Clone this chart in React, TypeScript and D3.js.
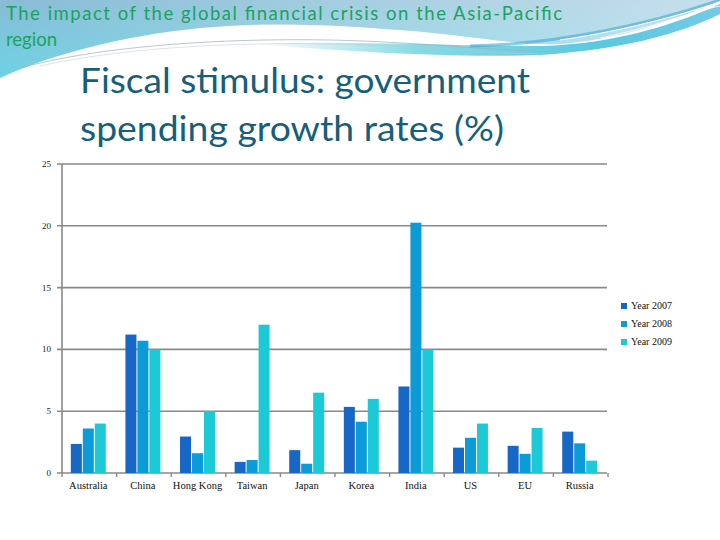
import React from "react";
import * as d3 from "d3";

const categories = ["Australia", "China", "Hong Kong", "Taiwan", "Japan", "Korea", "India", "US", "EU", "Russia"];
const seriesNames = ["Year 2007", "Year 2008", "Year 2009"];
const year2007 = [2.35, 11.2, 2.95, 0.9, 1.85, 5.35, 7.0, 2.05, 2.2, 3.35];
const year2008 = [3.6, 10.7, 1.6, 1.05, 0.75, 4.15, 20.25, 2.85, 1.55, 2.4];
const year2009 = [4.0, 10.0, 5.0, 12.0, 6.5, 6.0, 10.0, 4.0, 3.65, 1.0];
const yTicks = [0, 5, 10, 15, 20, 25];
const colors = ["#1667c6", "#0b9bd7", "#1ccad7"];

const W = 720, H = 540;
const left = 61, right = 607, top = 164, bottom = 473;

export default function App() {
  const series = [year2007, year2008, year2009];
  const x = d3.scaleBand<string>().domain(categories).range([left, right]).paddingInner(0.36).paddingOuter(0.18);
  const xi = d3.scaleBand<number>().domain([0, 1, 2]).range([0, x.bandwidth()]).paddingInner(0.08);
  const y = d3.scaleLinear().domain([0, 25]).range([bottom, top]);
  const step = (right - left) / categories.length;

  return (
    <svg width={W} height={H} style={{ position: "absolute", left: 0, top: 0, background: "#fff" }}>
      <defs>
        <linearGradient id="bandV" x1="0" y1="0" x2="0" y2="1">
          <stop offset="0" stopColor="#82b8d4" />
          <stop offset="1" stopColor="#66d0e2" />
        </linearGradient>
        <linearGradient id="bandH" x1="0" y1="0" x2="1" y2="0">
          <stop offset="0" stopColor="#ffffff" stopOpacity="0.05" />
          <stop offset="0.5" stopColor="#ffffff" stopOpacity="0.3" />
          <stop offset="1" stopColor="#ffffff" stopOpacity="0.55" />
        </linearGradient>
        <linearGradient id="stripH" x1="0" y1="0" x2="1" y2="0">
          <stop offset="0" stopColor="#8fdbe6" stopOpacity="0" />
          <stop offset="0.35" stopColor="#7ad6e4" stopOpacity="0.9" />
          <stop offset="0.75" stopColor="#5ac8e0" />
          <stop offset="1" stopColor="#74cae8" />
        </linearGradient>
      </defs>
      {/* background swooshes */}
      <path d="M0,0 H720 V0 C690,14 630,38 560,44 C520,46 460,34 400,30 C330,24 260,22 200,28 C120,36 50,55 0,78 Z" fill="url(#bandV)" />
      <path d="M0,0 H720 V0 C690,14 630,38 560,44 C520,46 460,34 400,30 C330,24 260,22 200,28 C120,36 50,55 0,78 Z" fill="url(#bandH)" />
      <path d="M250,44 C350,40 450,46 540,46 C620,44 680,22 720,4 V14 C680,34 620,50 540,55 C450,58 360,52 250,44 Z" fill="url(#stripH)" />
      <path d="M470,46 C560,44 650,24 720,0" stroke="#3fa6d6" strokeWidth="3" fill="none" opacity="0.6" />
      <path d="M560,40 C630,30 690,12 720,2" stroke="#ffffff" strokeWidth="1" fill="none" />
      <path d="M600,38 C650,28 700,10 720,6" stroke="#ffffff" strokeWidth="0.8" fill="none" />
      <path d="M20,68 C100,46 220,38 330,40 C420,42 480,50 560,52" stroke="#9ab0b8" strokeWidth="1" fill="none" opacity="0.7" />
      <path d="M40,66 C120,48 230,42 330,44 C420,46 470,52 540,54" stroke="#b8c6cc" strokeWidth="0.8" fill="none" opacity="0.6" />

      {/* header */}
      <text x={6} y={20} fontFamily="Lato, sans-serif" fontSize={18.5} fill="#1aa35e" textLength={556} lengthAdjust="spacing">The impact of the global financial crisis on the Asia-Pacific</text>
      <text x={6} y={46} fontFamily="Lato, sans-serif" fontSize={18.5} fill="#1aa35e">region</text>

      {/* title */}
      <text x={80} y={93} fontFamily="Lato, sans-serif" fontSize={34} fill="#165f7a" textLength={450} lengthAdjust="spacingAndGlyphs">Fiscal stimulus: government</text>
      <text x={80} y={141} fontFamily="Lato, sans-serif" fontSize={34} fill="#165f7a" textLength={424} lengthAdjust="spacingAndGlyphs">spending growth rates (%)</text>

      {/* gridlines & y axis */}
      {yTicks.map((t) => (
        <g key={t}>
          <line x1={left - 4} x2={right} y1={y(t)} y2={y(t)} stroke="#898989" strokeWidth={1.6} />
          <text x={51} y={y(t) + 3} textAnchor="end" fontFamily="'Liberation Serif', serif" fontSize={9} fill="#222">{t}</text>
        </g>
      ))}
      <line x1={left + 1} x2={left + 1} y1={top} y2={bottom} stroke="#898989" strokeWidth={1.6} />
      {d3.range(categories.length + 1).map((i) => (
        <line key={i} x1={left + 1 + i * step} x2={left + 1 + i * step} y1={bottom} y2={bottom + 4} stroke="#898989" strokeWidth={1.4} />
      ))}

      {/* bars */}
      {categories.map((c, ci) => (
        <g key={c}>
          {series.map((s, si) => (
            <rect key={si} x={(x(c) as number) + (xi(si) as number)} y={y(s[ci])} width={xi.bandwidth()} height={bottom - y(s[ci])} fill={colors[si]} />
          ))}
          <text x={(x(c) as number) + x.bandwidth() / 2} y={489} textAnchor="middle" fontFamily="'Liberation Serif', serif" fontSize={10.5} fill="#111">{c}</text>
        </g>
      ))}

      {/* legend */}
      {seriesNames.map((n, i) => (
        <g key={n}>
          <rect x={621} y={303 + i * 18} width={6} height={6} fill={colors[i]} />
          <text x={631} y={309 + i * 18} fontFamily="'Liberation Serif', serif" fontSize={10} fill="#111">{n}</text>
        </g>
      ))}
    </svg>
  );
}
